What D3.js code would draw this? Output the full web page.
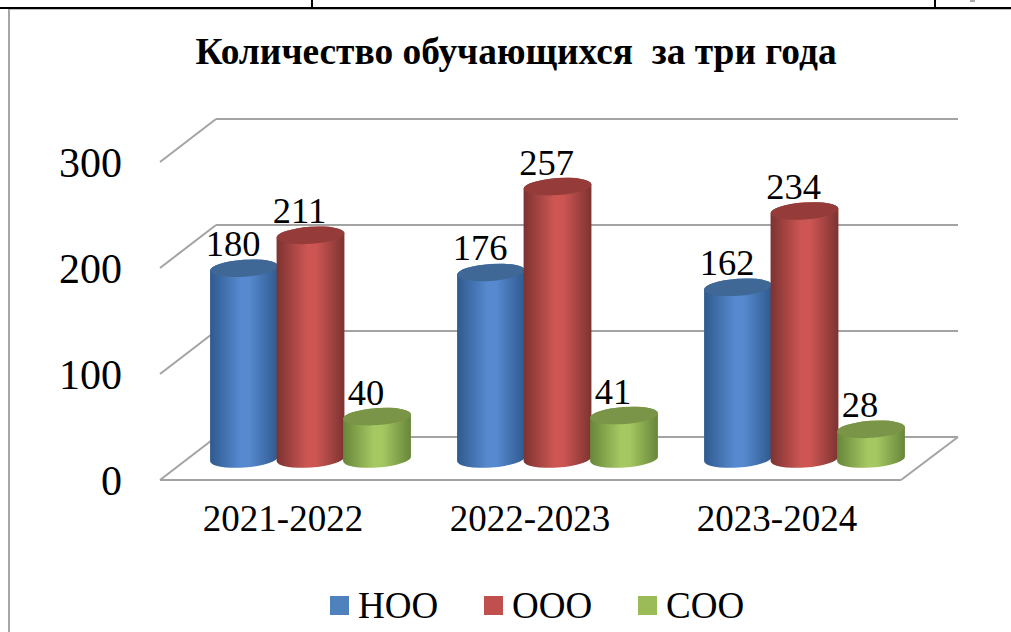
<!DOCTYPE html>
<html>
<head>
<meta charset="utf-8">
<script src="https://cdn.jsdelivr.net/npm/d3@7"></script>
<style>
html, body { margin: 0; padding: 0; background: #fff; overflow: hidden; }
text { font-family: "Liberation Serif", serif; fill: #000; }
</style>
</head>
<body>
<script>
var width = 1011;
var height = 632;

var title = "Количество обучающихся  за три года";
var categories = ["2021-2022", "2022-2023", "2023-2024"];
var seriesNames = ["НОО", "ООО", "СОО"];
var noo = [180, 176, 162];
var ooo = [211, 257, 234];
var soo = [40, 41, 28];
var yTicks = [0, 100, 200, 300];

var seriesValues = [noo, ooo, soo];
// edge, middle, top
var seriesColors = [
    ["#2f5a8e", "#5689cf", "#3f6897"],
    ["#7c3331", "#cd5653", "#953c3a"],
    ["#67863a", "#a5c862", "#7a9547"]
];
var legendColors = ["#4f81bd", "#c0504d", "#9bbb59"];

var svg = d3.select("body")
    .append("svg")
    .attr("width", width)
    .attr("height", height)
    .style("display", "block");

// page table lines behind the chart
svg.append("rect").attr("x", 0).attr("y", 7).attr("width", width).attr("height", 2).attr("fill", "#000");
svg.append("rect").attr("x", 311).attr("y", 0).attr("width", 2).attr("height", 8).attr("fill", "#000");
svg.append("rect").attr("x", 934).attr("y", 0).attr("width", 2).attr("height", 8).attr("fill", "#000");
svg.append("rect").attr("x", 970).attr("y", 0).attr("width", 5).attr("height", 2).attr("fill", "#aaa");
svg.append("rect").attr("x", 8).attr("y", 9).attr("width", 1003).attr("height", 1).attr("fill", "#bbb");
svg.append("rect").attr("x", 8).attr("y", 9).attr("width", 2).attr("height", 623).attr("fill", "#a6a6a6");

svg.append("text")
    .attr("x", 516)
    .attr("y", 64)
    .attr("text-anchor", "middle")
    .attr("font-size", 37.4)
    .attr("font-weight", "bold")
    .style("white-space", "pre")
    .text(title);

var yFront = d3.scaleLinear().domain([0, 300]).range([480, 162]);
var yBack = d3.scaleLinear().domain([0, 300]).range([437, 119]);
var yBar = d3.scaleLinear().domain([0, 300]).range([459, 141]);

var xFrontLeft = 160, xBackLeft = 216, xFrontRight = 901, xBackRight = 958;

var grid = svg.append("g").attr("stroke", "#a3a3a3").attr("stroke-width", 2).attr("fill", "none");
grid.selectAll("line.back")
    .data(yTicks)
    .enter()
    .append("line")
    .attr("class", "back")
    .attr("x1", xBackLeft)
    .attr("x2", xBackRight)
    .attr("y1", function (d) { return yBack(d); })
    .attr("y2", function (d) { return yBack(d); });
grid.selectAll("line.side")
    .data(yTicks)
    .enter()
    .append("line")
    .attr("class", "side")
    .attr("x1", xFrontLeft)
    .attr("x2", xBackLeft)
    .attr("y1", function (d) { return yFront(d); })
    .attr("y2", function (d) { return yBack(d); });
// floor
grid.append("line").attr("x1", xFrontLeft).attr("x2", xFrontRight).attr("y1", yFront(0)).attr("y2", yFront(0));
grid.append("line").attr("x1", xFrontRight).attr("x2", xBackRight).attr("y1", yFront(0)).attr("y2", yBack(0));

var yAxis = d3.axisLeft(yFront).tickValues(yTicks).tickSize(0).tickPadding(0);
var yAxisG = svg.append("g").attr("transform", "translate(122,1)").call(yAxis);
yAxisG.select(".domain").remove();
yAxisG.selectAll("text")
    .attr("font-size", 42)
    .attr("font-family", "Liberation Serif")
    .attr("fill", "#000");

var x0 = d3.scaleBand().domain(categories).range([187.5, 928.5]);
var x1 = d3.scalePoint().domain(seriesNames).range([-67, 66]);
var rx = 34, ry = 8.5, tilt = -4;
var dx = rx * Math.cos(tilt * Math.PI / 180);
var dy = rx * Math.sin(-tilt * Math.PI / 180);

var defs = svg.append("defs");
seriesColors.forEach(function (c, i) {
    var grad = defs.append("linearGradient").attr("id", "cyl" + i);
    grad.append("stop").attr("offset", "0%").attr("stop-color", c[0]);
    grad.append("stop").attr("offset", "45%").attr("stop-color", c[1]);
    grad.append("stop").attr("offset", "58%").attr("stop-color", c[1]);
    grad.append("stop").attr("offset", "100%").attr("stop-color", c[0]);
});

var cylinders = [];
categories.forEach(function (cat, c) {
    seriesNames.forEach(function (name, s) {
        cylinders.push({ cat: cat, name: name, s: s, value: seriesValues[s][c] });
    });
});
function cx(d) { return x0(d.cat) + x0.bandwidth() / 2 + x1(d.name); }

var cyl = svg.selectAll("g.cylinder")
    .data(cylinders)
    .enter()
    .append("g")
    .attr("class", "cylinder");
cyl.append("path")
    .attr("fill", function (d) { return "url(#cyl" + d.s + ")"; })
    .attr("d", function (d) {
        var x = cx(d), top = yBar(d.value), base = yBar(0);
        return "M" + (x - dx) + "," + (top + dy) +
            "L" + (x - dx) + "," + (base + dy) +
            "A" + rx + "," + ry + " " + tilt + " 0 0 " + (x + dx) + "," + (base - dy) +
            "L" + (x + dx) + "," + (top - dy) +
            "A" + rx + "," + ry + " " + tilt + " 0 0 " + (x - dx) + "," + (top + dy) + "Z";
    });
cyl.append("ellipse")
    .attr("rx", rx)
    .attr("ry", ry)
    .attr("fill", function (d) { return seriesColors[d.s][2]; })
    .attr("transform", function (d) {
        return "translate(" + cx(d) + "," + yBar(d.value) + ") rotate(" + tilt + ")";
    });

svg.selectAll("text.value")
    .data(cylinders)
    .enter()
    .append("text")
    .attr("class", "value")
    .attr("x", function (d) { return cx(d) - 11; })
    .attr("y", function (d) { return yBar(d.value) - 12; })
    .attr("text-anchor", "middle")
    .attr("font-size", 36.5)
    .text(function (d) { return d.value; });

var xAxis = d3.axisBottom(x0).tickSize(0).tickPadding(0);
var xAxisG = svg.append("g").attr("transform", "translate(-28,505)").call(xAxis);
xAxisG.select(".domain").remove();
xAxisG.selectAll("text")
    .attr("font-size", 37)
    .attr("font-family", "Liberation Serif")
    .attr("fill", "#000");

var xLegend = d3.scalePoint().domain(seriesNames).range([330, 638]);
var legend = svg.selectAll("g.legend")
    .data(seriesNames)
    .enter()
    .append("g")
    .attr("class", "legend")
    .attr("transform", function (d) { return "translate(" + xLegend(d) + ",596)"; });
legend.append("rect")
    .attr("width", 19)
    .attr("height", 19)
    .attr("fill", function (d, i) { return legendColors[i]; });
legend.append("text")
    .attr("x", 28)
    .attr("y", 22)
    .attr("font-size", 37)
    .text(function (d) { return d; });
</script>
</body>
</html>
